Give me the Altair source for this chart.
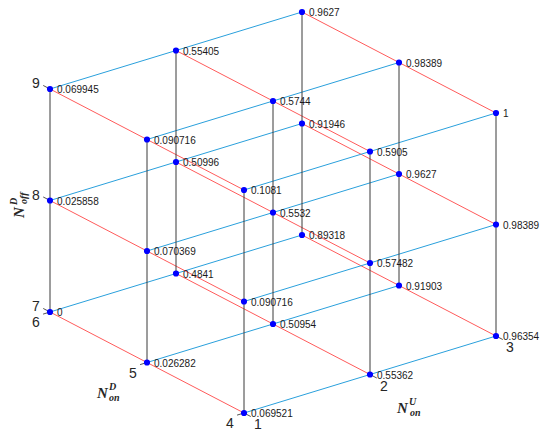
import altair as alt
import pandas as pd

# ---- data -------------------------------------------------------------
U_LEVELS = [1, 2, 3]          # N_on^U
D_LEVELS = [4, 5, 6]          # N_on^D
F_LEVELS = [7, 8, 9]          # N_off^D

# rows: d = 4, 5, 6 ; columns: u = 1, 2, 3
VALUES_F7 = [[0.069521, 0.55362, 0.96354],
             [0.026282, 0.50954, 0.91903],
             [0.0, 0.4841, 0.89318]]
VALUES_F8 = [[0.090716, 0.57482, 0.98389],
             [0.070369, 0.5532, 0.9627],
             [0.025858, 0.50996, 0.91946]]
VALUES_F9 = [[0.1081, 0.5905, 1.0],
             [0.090716, 0.5744, 0.98389],
             [0.069945, 0.55405, 0.9627]]
VALUES = {7: VALUES_F7, 8: VALUES_F8, 9: VALUES_F9}

# ---- build tables -----------------------------------------------------
pts = []
for f in F_LEVELS:
    for i, d in enumerate(D_LEVELS):
        for j, u in enumerate(U_LEVELS):
            v = VALUES[f][i][j]
            pts.append({"u": u, "d": d, "f": f, "v": v, "label": format(v, ".5g")})
pts = pd.DataFrame(pts)

segs = []
for f in F_LEVELS:
    for u in U_LEVELS:   # red: along d
        segs.append({"u": u, "d": D_LEVELS[0], "f": f, "u2": u, "d2": D_LEVELS[-1], "f2": f, "kind": "d"})
    for d in D_LEVELS:   # blue: along u
        segs.append({"u": U_LEVELS[0], "d": d, "f": f, "u2": U_LEVELS[-1], "d2": d, "f2": f, "kind": "u"})
for u in U_LEVELS:
    for d in D_LEVELS:   # black: along f
        segs.append({"u": u, "d": d, "f": F_LEVELS[0], "u2": u, "d2": d, "f2": F_LEVELS[-1], "kind": "f"})
segs = pd.DataFrame(segs)

ticks = []
for f in F_LEVELS:
    ticks.append({"u": 1, "d": 6, "f": f, "u2": 1, "d2": 6.07, "f2": f, "axis": "f", "lab": str(f)})
for d in D_LEVELS:
    ticks.append({"u": 1, "d": d, "f": 7, "u2": 0.945, "d2": d, "f2": 7, "axis": "d", "lab": str(d)})
for u in U_LEVELS:
    ticks.append({"u": u, "d": 4, "f": 7, "u2": u, "d2": 3.93, "f2": 7, "axis": "u", "lab": str(u)})
ticks = pd.DataFrame(ticks)

# ---- projection (3D lattice -> screen) --------------------------------
PX = "236 + 126*({u}-1) - 97*({d}-4)"
PY = "405 - 38.5*({u}-1) - 50.5*({d}-4) - 111.5*({f}-7)"

def proj(ch, suffix=""):
    return ch.transform_calculate(
        **{"px" + suffix: PX.format(u="datum.u" + suffix, d="datum.d" + suffix),
           "py" + suffix: PY.format(u="datum.u" + suffix, d="datum.d" + suffix, f="datum.f" + suffix)}
    )

W, H = 534, 423
xs = alt.Scale(domain=[0, W], nice=False, zero=False)
ys = alt.Scale(domain=[0, H], nice=False, zero=False, reverse=True)
X = lambda fld: alt.X(fld, type="quantitative", scale=xs, axis=None)
Y = lambda fld: alt.Y(fld, type="quantitative", scale=ys, axis=None)

color_map = alt.Scale(domain=["d", "u", "f"], range=["#FF5B5B", "#2AA0DC", "#3A3A3A"])

lines = proj(proj(alt.Chart(segs)), "2").mark_rule(strokeWidth=1).encode(
    x=X("px"), y=Y("py"), x2="px2", y2="py2",
    color=alt.Color("kind:N", scale=color_map, legend=None),
)

tick_marks = proj(proj(alt.Chart(ticks)), "2").mark_rule(strokeWidth=0.8, color="#262626").encode(
    x=X("px"), y=Y("py"), x2="px2", y2="py2",
)

def tick_labels(axis, dx, dy):
    return proj(alt.Chart(ticks).transform_filter(f"datum.axis == '{axis}'")).mark_text(
        fontSize=14, font="Liberation Sans", color="#262626", align="center", baseline="middle",
        dx=dx, dy=dy,
    ).encode(x=X("px"), y=Y("py"), text="lab:N")

dots = proj(alt.Chart(pts)).mark_point(filled=True, size=38, color="#0000FF", opacity=1).encode(
    x=X("px"), y=Y("py"),
)

labels = proj(alt.Chart(pts)).mark_text(
    fontSize=10, font="Liberation Sans", color="#1A1A1A", align="left", baseline="middle", dx=7, dy=1,
).encode(x=X("px"), y=Y("py"), text="label:N")

one = pd.DataFrame({"k": [0]})

def piece(s, x, y, size, angle=0):
    return alt.Chart(one).mark_text(
        text=s, align="left", baseline="alphabetic", angle=angle, fontSize=size,
        fontStyle="italic", fontWeight="bold", font="Liberation Serif", color="#262626",
    ).encode(x=alt.value(x - 8), y=alt.value(y - 8))

titles = [
    # N_on^U
    piece("N", 397, 413, 15), piece("U", 409, 405, 10), piece("on", 410, 416, 10),
    # N_on^D
    piece("N", 97, 398, 15), piece("D", 109, 390, 10), piece("on", 109, 401, 10),
    # N_off^D (rotated)
    piece("N", 24, 218, 15, 270), piece("D", 17, 205, 10, 270), piece("off", 27, 204, 10, 270),
]

chart = alt.layer(
    lines, tick_marks,
    tick_labels("f", -14, -5), tick_labels("d", -14, 11), tick_labels("u", 14, 12),
    dots, labels, *titles,
).properties(
    width=W, height=H, padding=0, autosize=alt.AutoSizeParams(type="none"),
).configure_view(stroke=None)

chart.save("out.html", embed_options={"renderer": "svg", "actions": False})
